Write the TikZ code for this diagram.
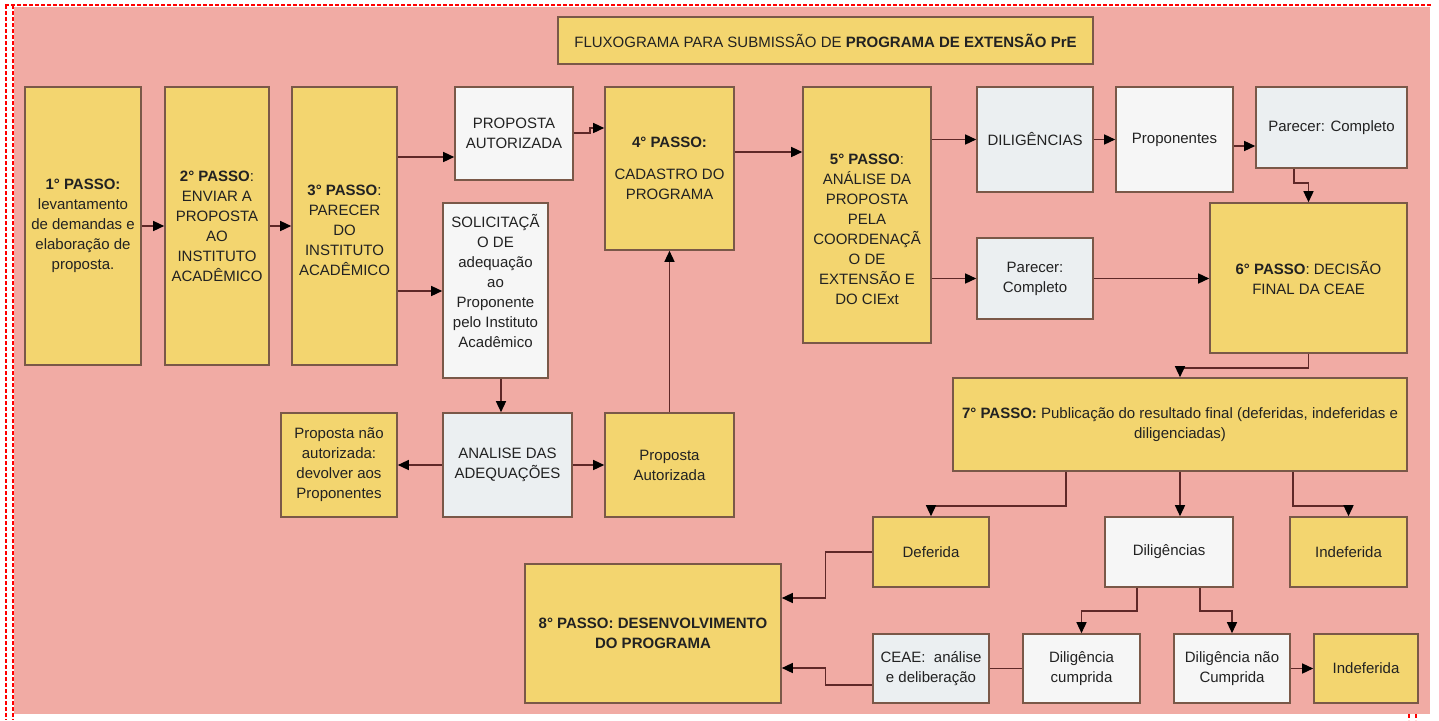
\documentclass[tikz,border=0pt]{standalone}
\usepackage{fontspec}
\setmainfont{Liberation Sans}
\usetikzlibrary{arrows.meta}

\definecolor{fundo}{RGB}{241,171,164}
\definecolor{amarelo}{RGB}{243,213,111}
\definecolor{cinza}{RGB}{235,239,241}
\definecolor{branco}{RGB}{246,246,246}
\definecolor{borda}{RGB}{122,88,72}
\definecolor{linha}{RGB}{95,40,40}
\definecolor{texto}{RGB}{34,34,34}

\tikzset{
	caixa/.style = {draw = borda, line width = 1.6pt, inner sep = 2pt, align = center, text = texto, font = \fontsize{15}{20}\selectfont},
	passo/.style = {caixa, fill = amarelo},
	clara/.style = {caixa, fill = branco},
	cinzenta/.style = {caixa, fill = cinza},
	liga/.style = {draw = linha, line width = 1.4pt},
	seta/.style = {liga, -{Triangle[length = 11pt, width = 10pt, color = black]}},
}

\begin{document}
\begin{tikzpicture}[yscale = -1, x = 1pt, y = 1pt]
	\useasboundingbox (0, 0) rectangle (1439, 720);

	% Fundo:
	\fill [fundo] (14, 7) rectangle (1430, 714);
	\begin{scope}[red, line width = 1.6pt, dash pattern = on 4pt off 2pt]
		\draw (5, 5) -- (1432, 5);
		\draw (6, 5) -- (6, 720);
		\draw (13, 5) -- (13, 720);
		\draw (1409, 714) -- (1409, 720);
		\draw (1416, 714) -- (1416, 720);
	\end{scope}

	% Titulo:
	\node [passo, minimum width = 535pt, minimum height = 47pt] (titulo) at (825.5, 40.5) {FLUXOGRAMA PARA SUBMISSÃO DE \textbf{PROGRAMA DE EXTENSÃO PrE}};

	% Passos 1 a 5:
	\node [passo, minimum width = 116pt, minimum height = 278pt] (passoA) at (83, 226) {\textbf{1° PASSO:}\\levantamento\\de demandas e\\elaboração de\\proposta.};
	\node [passo, minimum width = 104pt, minimum height = 278pt] (passoB) at (217, 226) {\textbf{2° PASSO}:\\ENVIAR A\\PROPOSTA\\AO\\INSTITUTO\\ACADÊMICO};
	\node [passo, minimum width = 105pt, minimum height = 278pt] (passoC) at (344.5, 226) {\mbox{}\\\textbf{3° PASSO}:\\PARECER\\DO\\INSTITUTO\\ACADÊMICO};
	\node [clara, minimum width = 118pt, minimum height = 93pt] (autorizada) at (514, 133.5) {PROPOSTA\\AUTORIZADA};
	\node [clara, minimum width = 105pt, minimum height = 175pt] (solicitacao) at (495.5, 290.5) {SOLICITAÇÃ\\O DE\\adequação\\ao\\Proponente\\pelo Instituto\\Acadêmico\\\mbox{}};
	\node [passo, minimum width = 129pt, minimum height = 163pt] (passoD) at (669.5, 168.5) {\textbf{4° PASSO:}\\[12pt]CADASTRO DO\\PROGRAMA};
	\node [passo, minimum width = 128pt, minimum height = 256pt] (passoE) at (867, 215) {\mbox{}\\\mbox{}\\\textbf{5° PASSO}:\\ANÁLISE DA\\PROPOSTA\\PELA\\COORDENAÇÃ\\O DE\\EXTENSÃO E\\DO CIExt};

	% Adequacoes:
	\node [passo, minimum width = 116pt, minimum height = 104pt] (naoautorizada) at (339, 465) {Proposta não\\autorizada:\\devolver aos\\Proponentes};
	\node [cinzenta, minimum width = 129pt, minimum height = 104pt] (analise) at (507.5, 465) {ANALISE DAS\\ADEQUAÇÕES};
	\node [passo, minimum width = 129pt, minimum height = 104pt] (autorizadaB) at (669.5, 465) {Proposta\\Autorizada};

	% Passos 5 e 6:
	\node [cinzenta, minimum width = 116pt, minimum height = 105pt] (diligencias) at (1035, 139.5) {DILIGÊNCIAS};
	\node [clara, minimum width = 117pt, minimum height = 105pt] (proponentes) at (1174.5, 139.5) {Proponentes};
	\node [cinzenta, minimum width = 151pt, minimum height = 81pt] (parecerA) at (1331.5, 127.5) {Parecer: Completo};
	\node [cinzenta, minimum width = 116pt, minimum height = 81pt] (parecerB) at (1035, 278.5) {Parecer:\\Completo};
	\node [passo, minimum width = 197pt, minimum height = 150pt] (passoF) at (1308.5, 278) {\textbf{6° PASSO}: DECISÃO\\FINAL DA CEAE};

	% Passos 7 e 8:
	\node [passo, minimum width = 454pt, minimum height = 93pt] (passoG) at (1180, 424.5) {\textbf{7° PASSO:} Publicação do resultado final (deferidas, indeferidas e\\diligenciadas)};
	\node [passo, minimum width = 116pt, minimum height = 70pt] (deferida) at (931, 552) {Deferida};
	\node [clara, minimum width = 128pt, minimum height = 70pt] (diligenciasB) at (1169, 552) {Diligências};
	\node [passo, minimum width = 117pt, minimum height = 70pt] (indeferidaA) at (1348.5, 552) {Indeferida};
	\node [passo, minimum width = 256pt, minimum height = 139pt] (passoH) at (653, 633.5) {\textbf{8° PASSO: DESENVOLVIMENTO}\\\textbf{DO PROGRAMA}};
	\node [cinzenta, minimum width = 116pt, minimum height = 69pt] (ceae) at (931, 668.5) {CEAE:~ análise\\e deliberação};
	\node [clara, minimum width = 117pt, minimum height = 69pt] (cumprida) at (1081.5, 668.5) {Diligência\\cumprida};
	\node [clara, minimum width = 116pt, minimum height = 69pt] (naocumprida) at (1232, 668.5) {Diligência não\\Cumprida};
	\node [passo, minimum width = 104pt, minimum height = 69pt] (indeferidaB) at (1366, 668.5) {Indeferida};

	% Ligacoes:
	\draw [seta] (passoA) -- (passoB);
	\draw [seta] (passoB) -- (passoC);
	\draw [seta] (passoC.east |- 0,157) -- (autorizada.west |- 0,157);
	\draw [seta] (passoC.east |- 0,291) -- (solicitacao.west |- 0,291);
	\draw [seta] (autorizada.east |- 0,133) -- ++(16, 0) |- (passoD.west |- 0,128);
	\draw [seta] (solicitacao.south -| 501,0) -- (analise.north -| 501,0);
	\draw [seta] (analise) -- (naoautorizada);
	\draw [seta] (analise) -- (autorizadaB);
	\draw [seta] (autorizadaB) -- (passoD);
	\draw [seta] (passoD.east |- 0,152) -- (passoE.west |- 0,152);
	\draw [seta] (passoE.east |- diligencias.west) -- (diligencias.west);
	\draw [seta] (passoE.east |- parecerB.west) -- (parecerB.west);
	\draw [seta] (diligencias) -- (proponentes);
	\draw [seta] (proponentes.east |- 0,146) -- (parecerA.west |- 0,146);
	\draw [seta] (parecerA.south -| 1294,0) -- ++(0, 14) -| (passoF.north);
	\draw [seta] (parecerB) -- (parecerB -| passoF.west);
	\draw [seta] (passoF.south) -- ++(0, 14) -| (passoG.north);
	\draw [seta] (passoG.south -| 1066,0) -- ++(0, 34) -| (deferida.north);
	\draw [seta] (passoG.south) -- (diligenciasB.north -| passoG.south);
	\draw [seta] (passoG.south -| 1293,0) -- ++(0, 34) -| (indeferidaA.north);
	\draw [seta] (diligenciasB.south -| 1137,0) -- ++(0, 23) -| (cumprida.north);
	\draw [seta] (diligenciasB.south -| 1200,0) -- ++(0, 23) -| (naocumprida.north);
	\draw [seta] (naocumprida) -- (indeferidaB);
	\draw [liga] (cumprida) -- (ceae);
	\draw [seta] (deferida.west) -- ++(-47, 0) |- (passoH.east |- 0,598);
	\draw [seta] (ceae.west |- 0,685) -- ++(-47, 0) |- (passoH.east |- 0,668);
\end{tikzpicture}
\end{document}
